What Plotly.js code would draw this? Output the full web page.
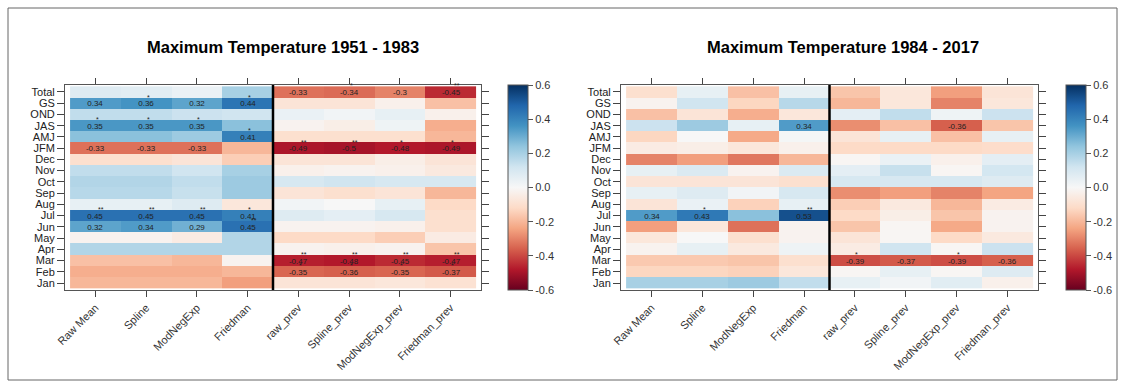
<!DOCTYPE html>
<html><head><meta charset="utf-8">
<script src="https://cdn.plot.ly/plotly-3.0.1.min.js"></script>
<style>html,body{margin:0;padding:0;background:#fff;} #chart{width:1125px;height:385px;}</style>
</head><body><div id="chart"></div>
<script>
// Row order: bottom (Jan) to top (Total)
const rows = ["Jan","Feb","Mar","Apr","May","Jun","Jul","Aug","Sep","Oct","Nov","Dec","JFM","AMJ","JAS","OND","GS","Total"];
const columns = ["Raw Mean","Spline","ModNegExp","Friedman","raw_prev","Spline_prev","ModNegExp_prev","Friedman_prev"];
const titleEarly = "Maximum Temperature 1951 - 1983";
const titleLate = "Maximum Temperature 1984 - 2017";
const colorTicks = [-0.6,-0.4,-0.2,0,0.2,0.4,0.6];

// ---- 1951 - 1983 correlations ----
const early_RawMean       = [-0.20,-0.22,-0.18,0.18,-0.02,0.32,0.45,0.05,0.17,0.18,0.15,-0.10,-0.33,0.25,0.35,0.15,0.34,0.08];
const early_Spline        = [-0.20,-0.22,-0.18,0.18,-0.02,0.34,0.45,0.05,0.17,0.18,0.15,-0.10,-0.33,0.25,0.35,0.15,0.36,0.07];
const early_ModNegExp     = [-0.20,-0.22,-0.20,0.18,-0.05,0.29,0.45,0.08,0.14,0.15,0.12,-0.08,-0.33,0.22,0.35,0.13,0.32,0.04];
const early_Friedman      = [-0.25,-0.20,-0.02,0.18,0.18,0.45,0.41,-0.07,0.22,0.22,0.20,-0.15,-0.20,0.41,0.25,0.12,0.44,0.20];
const early_raw_prev      = [-0.08,-0.35,-0.47,-0.02,-0.12,-0.02,0.08,0.02,-0.08,0.10,-0.03,-0.08,-0.49,-0.10,-0.02,0.04,-0.08,-0.33];
const early_Spline_prev   = [-0.08,-0.36,-0.48,-0.03,-0.12,-0.02,0.06,0.00,-0.10,0.12,-0.02,-0.08,-0.50,-0.10,-0.04,0.02,-0.08,-0.34];
const early_ModNegExp_prev= [-0.07,-0.35,-0.45,-0.02,-0.15,-0.03,0.10,0.05,-0.08,0.10,-0.03,-0.04,-0.48,-0.10,0.03,0.05,-0.03,-0.30];
const early_Friedman_prev = [-0.09,-0.37,-0.47,-0.17,-0.05,-0.10,-0.10,-0.12,-0.20,0.10,-0.06,-0.08,-0.49,-0.20,-0.22,-0.03,-0.18,-0.45];

// ---- 1984 - 2017 correlations ----
const late_RawMean        = [0.20,-0.13,-0.16,-0.02,-0.07,-0.25,0.34,-0.08,0.05,-0.08,0.05,-0.30,-0.05,-0.13,0.13,-0.18,-0.02,-0.10];
const late_Spline         = [0.20,-0.13,-0.16,0.05,0.00,-0.07,0.43,0.04,0.08,-0.08,0.09,-0.25,-0.04,0.00,0.22,-0.08,0.12,0.05];
const late_ModNegExp      = [0.22,-0.14,-0.17,-0.06,-0.10,-0.33,0.25,-0.14,0.02,-0.08,-0.02,-0.32,-0.07,-0.23,0.05,-0.22,-0.13,-0.18];
const late_Friedman       = [0.15,-0.07,-0.10,0.03,-0.02,-0.02,0.53,0.05,0.10,-0.10,0.09,-0.20,-0.03,0.01,0.34,-0.07,0.17,0.05];
const late_raw_prev       = [0.05,-0.01,-0.39,-0.05,-0.08,-0.17,-0.12,-0.15,-0.28,0.10,0.06,-0.01,-0.12,-0.08,-0.28,0.06,-0.20,-0.17];
const late_Spline_prev    = [0.02,0.05,-0.37,0.12,-0.01,-0.01,-0.04,-0.06,-0.25,0.10,0.14,0.04,-0.12,0.05,-0.18,0.15,-0.07,-0.07];
const late_ModNegExp_prev = [0.07,-0.01,-0.39,-0.01,-0.12,-0.23,-0.17,-0.20,-0.30,0.10,-0.01,-0.03,-0.12,-0.18,-0.36,0.03,-0.30,-0.25];
const late_Friedman_prev  = [-0.03,0.08,-0.36,0.13,-0.06,-0.02,-0.02,-0.05,-0.24,0.08,0.11,0.06,-0.11,0.05,-0.17,0.13,-0.07,-0.08];

// significance: "" = no label, "n" = value only, "*" / "**" = value with stars
const _ = "";
const early_sig_RawMean        = [_,_,_,_,_,"n","**",_,_,_,_,_,"n",_,"*",_,"n",_];
const early_sig_Spline         = [_,_,_,_,_,"n","**",_,_,_,_,_,"n",_,"*",_,"*",_];
const early_sig_ModNegExp      = [_,_,_,_,_,"n","**",_,_,_,_,_,"n",_,"*",_,"n",_];
const early_sig_Friedman       = [_,_,_,_,_,"**","*",_,_,_,_,_,_,"*",_,_,"*",_];
const early_sig_raw_prev       = [_,"*","**",_,_,_,_,_,_,_,_,_,"**",_,_,_,_,"n"];
const early_sig_Spline_prev    = [_,"*","**",_,_,_,_,_,_,_,_,_,"**",_,_,_,_,"*"];
const early_sig_ModNegExp_prev = [_,"*","**",_,_,_,_,_,_,_,_,_,"*",_,_,_,_,"n"];
const early_sig_Friedman_prev  = [_,"*","**",_,_,_,_,_,_,_,_,_,"*",_,_,_,_,"**"];

const late_sig_RawMean         = [_,_,_,_,_,_,"n",_,_,_,_,_,_,_,_,_,_,_];
const late_sig_Spline          = [_,_,_,_,_,_,"*",_,_,_,_,_,_,_,_,_,_,_];
const late_sig_ModNegExp       = [_,_,_,_,_,_,_,_,_,_,_,_,_,_,_,_,_,_];
const late_sig_Friedman        = [_,_,_,_,_,_,"**",_,_,_,_,_,_,_,"n",_,_,_];
const late_sig_raw_prev        = [_,_,"*",_,_,_,_,_,_,_,_,_,_,_,_,_,_,_];
const late_sig_Spline_prev     = [_,_,"n",_,_,_,_,_,_,_,_,_,_,_,_,_,_,_];
const late_sig_ModNegExp_prev  = [_,_,"*",_,_,_,_,_,_,_,_,_,_,_,"n",_,_,_];
const late_sig_Friedman_prev   = [_,_,"n",_,_,_,_,_,_,_,_,_,_,_,_,_,_,_];

const earlyCols = [early_RawMean,early_Spline,early_ModNegExp,early_Friedman,early_raw_prev,early_Spline_prev,early_ModNegExp_prev,early_Friedman_prev];
const lateCols  = [late_RawMean,late_Spline,late_ModNegExp,late_Friedman,late_raw_prev,late_Spline_prev,late_ModNegExp_prev,late_Friedman_prev];
const earlySig  = [early_sig_RawMean,early_sig_Spline,early_sig_ModNegExp,early_sig_Friedman,early_sig_raw_prev,early_sig_Spline_prev,early_sig_ModNegExp_prev,early_sig_Friedman_prev];
const lateSig   = [late_sig_RawMean,late_sig_Spline,late_sig_ModNegExp,late_sig_Friedman,late_sig_raw_prev,late_sig_Spline_prev,late_sig_ModNegExp_prev,late_sig_Friedman_prev];

const FONT = "Liberation Sans, Arial, sans-serif";
const rdbu = ["#67001f","#b2182b","#d6604d","#f4a582","#fddbc7","#f7f7f7","#d1e5f0","#92c5de","#4393c3","#2166ac","#053061"];
const colorscale = rdbu.map((c,i)=>[i/(rdbu.length-1), c]);

const xIdx = columns.map((c,i)=>i);
const yIdx = rows.map((r,i)=>i);

function build(cols, sig) {
  const z = rows.map((r,ri)=>cols.map(col=>col[ri]));
  const text = rows.map((r,ri)=>cols.map((col,ci)=> sig[ci][ri] ? String(Number(col[ri].toFixed(2))) : ""));
  return {z, text};
}
const E = build(earlyCols, earlySig);
const L = build(lateCols, lateSig);

function cbar(xpos) {
  return {
    x: xpos, xanchor: "left", xpad: 0, ypad: 0,
    y: 1 - 187.5/385, yanchor: "middle",
    thicknessmode: "pixels", thickness: 20,
    lenmode: "pixels", len: 205,
    outlinewidth: 1, outlinecolor: "#555",
    tickmode: "array", tickvals: colorTicks, ticktext: colorTicks.map(v=>v.toFixed(1)),
    ticks: "outside", ticklen: 5, tickcolor: "#555",
    tickfont: {family: FONT, size: 11, color: "#333"}
  };
}

const traces = [
  {type:"heatmap", x:xIdx, y:yIdx, z:E.z, text:E.text, texttemplate:"%{text}",
   textfont:{family:FONT, size:8, color:"#222"}, colorscale, zmin:-0.6, zmax:0.6,
   colorbar: cbar(508/1125), hoverinfo:"skip", xaxis:"x", yaxis:"y"},
  {type:"heatmap", x:xIdx, y:yIdx, z:L.z, text:L.text, texttemplate:"%{text}",
   textfont:{family:FONT, size:8, color:"#222"}, colorscale, zmin:-0.6, zmax:0.6,
   colorbar: cbar(1066/1125), hoverinfo:"skip", xaxis:"x2", yaxis:"y2"}
];

const annotations = [];
function addStars(sig, xref, yref) {
  sig.forEach((col, ci) => col.forEach((s, ri) => {
    if (s === "*" || s === "**") {
      annotations.push({x: ci, y: ri, xref, yref, text: s, showarrow: false,
        xshift: s === "*" ? 2 : 6, yshift: 6,
        font: {family: FONT, size: 7, color: "#222"}});
    }
  }));
}
addStars(earlySig, "x", "y");
addStars(lateSig, "x2", "y2");

annotations.push({xref:"paper", yref:"paper", x:283/1125, y:1-47/385, text:"<b>"+titleEarly+"</b>",
  showarrow:false, xanchor:"center", yanchor:"middle", font:{family:FONT, size:16.5, color:"#000"}});
annotations.push({xref:"paper", yref:"paper", x:843/1125, y:1-47/385, text:"<b>"+titleLate+"</b>",
  showarrow:false, xanchor:"center", yanchor:"middle", font:{family:FONT, size:16.5, color:"#000"}});

function xax(domain) {
  return {domain, range:[-0.6, 7.6], tickmode:"array", tickvals:xIdx, ticktext:columns,
    tickangle:-45, ticks:"outside", ticklen:6, tickcolor:"#444",
    showline:true, mirror:"ticks", linecolor:"#555", linewidth:1,
    showgrid:false, zeroline:false, fixedrange:true,
    tickfont:{family:FONT, size:11, color:"#333"}};
}
function yax(domain, anchor) {
  return {domain, anchor, range:[-0.62, 17.62], tickmode:"array", tickvals:yIdx, ticktext:rows,
    ticks:"outside", ticklen:7, tickcolor:"#444",
    showline:true, mirror:"ticks", linecolor:"#555", linewidth:1,
    showgrid:false, zeroline:false, fixedrange:true,
    tickfont:{family:FONT, size:11, color:"#222"}};
}

const yDom = [1-290/385, 1-85/385];
const layout = {
  width:1125, height:385, margin:{l:0,r:0,t:0,b:0},
  paper_bgcolor:"#fff", plot_bgcolor:"#fff", showlegend:false,
  xaxis: Object.assign(xax([65/1125, 481/1125]), {anchor:"y"}),
  yaxis: yax(yDom, "x"),
  xaxis2: Object.assign(xax([621/1125, 1038/1125]), {anchor:"y2"}),
  yaxis2: yax(yDom, "x2"),
  annotations,
  shapes: [
    {type:"line", xref:"x", yref:"y", x0:3.5, x1:3.5, y0:-0.62, y1:17.62, line:{color:"#000", width:2.5}},
    {type:"line", xref:"x2", yref:"y2", x0:3.5, x1:3.5, y0:-0.62, y1:17.62, line:{color:"#000", width:2.5}},
    {type:"rect", xref:"paper", yref:"paper", x0:8/1125, x1:1117/1125, y0:1-380/385, y1:1-8/385, line:{color:"#666", width:1}}
  ]
};

Plotly.newPlot("chart", traces, layout, {displayModeBar:false, staticPlot:true});
</script>
</body></html>
